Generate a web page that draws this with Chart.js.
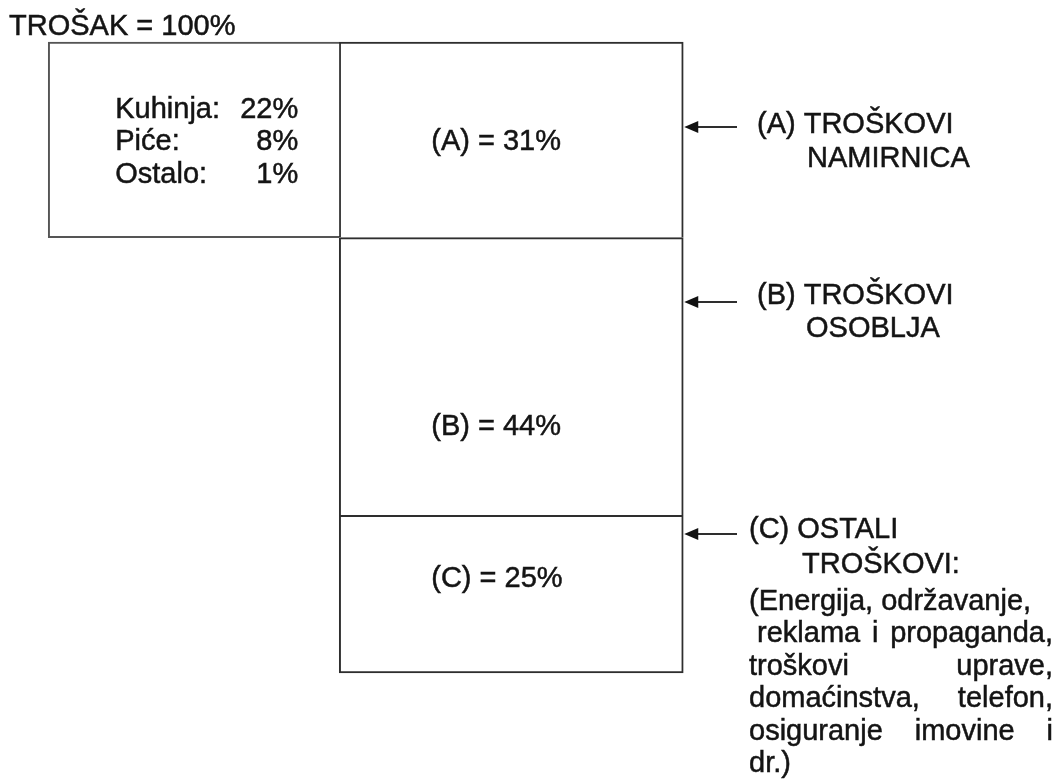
<!DOCTYPE html>
<html lang="hr">
<head>
<meta charset="utf-8">
<title>Struktura troškova</title>
<script src="https://cdn.jsdelivr.net/npm/chart.js@4.4.1/dist/chart.umd.min.js"></script>
<style>
  html, body { margin: 0; padding: 0; background: #fff; }
  #okvir { width: 1063px; height: 781px; position: relative; }
</style>
</head>
<body>
<div id="okvir"><canvas id="grafikon"></canvas></div>
<script>
// --- podaci ---
const kategorije = ["Namirnice", "Ukupno"];
const oznake = ["(A)", "(B)", "(C)"];
const udjeli = [31, 44, 25];                 // A, B, C u %
const stavkeNamirnica = ["Kuhinja:", "Piće:", "Ostalo:"];
const udjeliNamirnica = [22, 8, 1];          // zbroj = (A)
const naslov = "TROŠAK = 100%";

const opisA = ["(A) TROŠKOVI", "NAMIRNICA"];
const opisB = ["(B) TROŠKOVI", "OSOBLJA"];
const opisC = ["(C) OSTALI", "TROŠKOVI:"];
const opisCDetalji = [
  "(Energija, održavanje,",
  " reklama i propaganda,",
  "troškovi uprave,",
  "domaćinstva, telefon,",
  "osiguranje imovine i",
  "dr.)"
];
const poravnatiRedovi = [false, true, true, true, true, false];

const FONT = "29px 'Liberation Sans', Arial, sans-serif";
const BOJA_TEKSTA = "#141414";
const BOJA_LINIJE = "#2e2e2e";

const zbrojNamirnica = udjeliNamirnica.reduce((s, v) => s + v, 0);
const ispod = udjeli[1] + udjeli[2];

// tekst malo podebljan, kao u PDF-u
function pisi(ctx, tekst, x, y) {
  ctx.fillText(tekst, x, y);
  ctx.strokeText(tekst, x, y);
}

// crta jedan red, po potrebi obostrano poravnat
function crtajRed(ctx, tekst, x, y, desno, poravnaj) {
  if (!poravnaj) { pisi(ctx, tekst, x, y); return; }
  const pocetak = x + (tekst.length - tekst.trimStart().length) * ctx.measureText(" ").width;
  const rijeci = tekst.trim().split(/\s+/);
  const ukupno = rijeci.reduce((s, r) => s + ctx.measureText(r).width, 0);
  const razmak = (desno - pocetak - ukupno) / (rijeci.length - 1);
  let px = pocetak;
  rijeci.forEach(r => {
    pisi(ctx, r, px, y);
    px += ctx.measureText(r).width + razmak;
  });
}

function strelica(ctx, vrhX, y, repX) {
  ctx.save();
  ctx.strokeStyle = BOJA_LINIJE;
  ctx.lineWidth = 2;
  ctx.beginPath();
  ctx.moveTo(repX, y);
  ctx.lineTo(vrhX + 10, y);
  ctx.stroke();
  ctx.fillStyle = "#111";
  ctx.beginPath();
  ctx.moveTo(vrhX + 1, y);
  ctx.lineTo(vrhX + 15, y - 6);
  ctx.lineTo(vrhX + 15, y + 6);
  ctx.closePath();
  ctx.fill();
  ctx.restore();
}

const tekstovi = {
  id: "tekstovi",
  afterDatasetsDraw(chart) {
    const ctx = chart.ctx;
    const lijevi = chart.getDatasetMeta(1).data[0];
    const stupC = chart.getDatasetMeta(2).data[1];
    const stupB = chart.getDatasetMeta(3).data[1];
    const stupA = chart.getDatasetMeta(4).data[1];

    ctx.save();
    ctx.font = FONT;
    ctx.fillStyle = BOJA_TEKSTA;
    ctx.strokeStyle = BOJA_TEKSTA;
    ctx.lineWidth = 0.5;
    ctx.textBaseline = "alphabetic";

    // naslov
    ctx.textAlign = "left";
    pisi(ctx, naslov, 9, 35);

    // lijevi okvir: razrada (A)
    const lL = lijevi.x - lijevi.width / 2;
    const lD = lijevi.x + lijevi.width / 2;
    const lSred = (lijevi.y + lijevi.base) / 2;
    stavkeNamirnica.forEach((s, i) => {
      const y = lSred - 22 + i * 32.5;
      ctx.textAlign = "left";
      pisi(ctx, s, lL + 67, y);
      ctx.textAlign = "right";
      pisi(ctx, udjeliNamirnica[i] + "%", lD - 41, y);
    });

    // oznake u stupcu
    const stupci = [stupA, stupB, stupC];
    const udio = [0.5, 0.675, 0.39];
    ctx.textAlign = "left";
    stupci.forEach((el, i) => {
      const x = el.x - el.width / 2 + 92;
      const y = el.y + (el.base - el.y) * udio[i] + 10;
      pisi(ctx, oznake[i] + " = " + udjeli[i] + "%", x, y);
    });

    // strelice i opisi desno
    const desniRub = stupA.x + stupA.width / 2;
    strelica(ctx, desniRub, 127, 737);
    strelica(ctx, desniRub, 302, 737);
    strelica(ctx, desniRub, 534, 737);

    ctx.textAlign = "left";
    pisi(ctx, opisA[0], 757, 133);
    pisi(ctx, opisA[1], 807, 167);
    pisi(ctx, opisB[0], 757, 304);
    pisi(ctx, opisB[1], 806, 337);
    pisi(ctx, opisC[0], 749, 538);
    pisi(ctx, opisC[1], 802, 573);
    opisCDetalji.forEach((red, i) => {
      crtajRed(ctx, red, 749, 610 + i * 32.4, 1053, poravnatiRedovi[i]);
    });
    ctx.restore();
  }
};

const ctx = document.getElementById("grafikon").getContext("2d");
new Chart(ctx, {
  type: "bar",
  data: {
    labels: kategorije,
    datasets: [
      {
        label: "podloga",
        data: [ispod, null],
        backgroundColor: "rgba(0,0,0,0)",
        borderWidth: 0,
        barThickness: 291,
        clip: false
      },
      {
        label: "Namirnice",
        data: [zbrojNamirnica, null],
        backgroundColor: "#fff",
        borderColor: "#555",
        borderWidth: { top: 2, left: 2, bottom: 2, right: 0 },
        borderSkipped: false,
        barThickness: 291,
        clip: false
      },
      {
        label: oznake[2],
        data: [null, udjeli[2]],
        backgroundColor: "#fff",
        borderColor: BOJA_LINIJE,
        borderWidth: 2,
        borderSkipped: false,
        barThickness: 344,
        clip: false
      },
      {
        label: oznake[1],
        data: [null, udjeli[1]],
        backgroundColor: "#fff",
        borderColor: BOJA_LINIJE,
        borderWidth: { top: 2, left: 2, right: 2, bottom: 0 },
        borderSkipped: false,
        barThickness: 344,
        clip: false
      },
      {
        label: oznake[0],
        data: [null, udjeli[0]],
        backgroundColor: "#fff",
        borderColor: BOJA_LINIJE,
        borderWidth: { top: 2, left: 2, right: 2, bottom: 0 },
        borderSkipped: false,
        barThickness: 344,
        clip: false
      }
    ]
  },
  options: {
    responsive: true,
    maintainAspectRatio: false,
    animation: false,
    layout: { padding: { left: 35, right: 393, top: 42, bottom: 108 } },
    plugins: {
      legend: { display: false },
      tooltip: { enabled: false },
      title: { display: false }
    },
    scales: {
      x: { stacked: true, display: false },
      y: { stacked: true, display: false, min: 0, max: 100 }
    }
  },
  plugins: [tekstovi]
});
</script>
</body>
</html>
